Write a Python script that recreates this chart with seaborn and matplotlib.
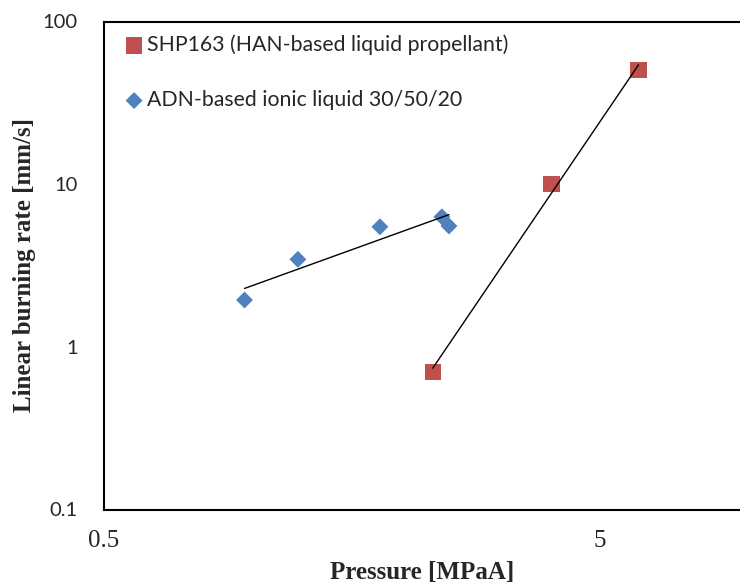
import numpy as np
import pandas as pd
import matplotlib
matplotlib.use("Agg")
import matplotlib.pyplot as plt
import matplotlib.ticker as mticker
import seaborn as sns

# ---- data ----
shp_label = "SHP163 (HAN-based liquid propellant)"
adn_label = "ADN-based ionic liquid 30/50/20"
shp_pressure = [2.30, 3.99, 5.98]
shp_rate = [0.70, 10.0, 50.3]
adn_pressure = [0.96, 1.23, 1.80, 2.40, 2.48]
adn_rate = [1.94, 3.45, 5.47, 6.30, 5.53]

x_major = [0.5, 5]
x_major_labels = ["0.5", "5"]
x_minor = [1.0, 1.5, 2.0, 2.5, 3.0, 3.5, 4.0, 4.5]
y_major = [0.1, 1, 10, 100]
y_major_labels = ["0.1", "1", "10", "100"]
y_minor = [m * d for d in (0.1, 1, 10) for m in range(2, 10)]

x_label = "Pressure [MPaA]"
y_label = "Linear burning rate [mm/s]"

red = "#C0504D"
blue = "#4F81BD"

sns.set_style("white")
plt.rcParams["font.family"] = ["Lato", "DejaVu Sans"]

W, H = 740, 583
ax_left, ax_bottom_px, ax_top_px = 104, 509.5, 21.5
ax_w = W - ax_left
ax_h = ax_bottom_px - ax_top_px
fig = plt.figure(figsize=(W / 100, H / 100), dpi=100)
ax = fig.add_axes([ax_left / W, 1 - ax_bottom_px / H, ax_w / W, ax_h / H])

df_shp = pd.DataFrame({"p": shp_pressure, "r": shp_rate})
df_adn = pd.DataFrame({"p": adn_pressure, "r": adn_rate})

sns.scatterplot(data=df_shp, x="p", y="r", marker="s", color=red, s=140,
                edgecolor="none", ax=ax, label=shp_label, zorder=2)
sns.scatterplot(data=df_adn, x="p", y="r", marker="D", color=blue, s=74,
                edgecolor="none", ax=ax, label=adn_label, zorder=2)

# power-law trend lines
for px, ry in ((shp_pressure, shp_rate), (adn_pressure, adn_rate)):
    lx, ly = np.log10(px), np.log10(ry)
    k, b = np.polyfit(lx, ly, 1)
    xs = np.array([min(px), max(px)])
    ys = 10 ** (b + k * np.log10(xs))
    sns.lineplot(x=xs, y=ys, color="black", linewidth=1.0, ax=ax,
                 legend=False, zorder=3, estimator=None)

ax.set_xscale("log")
ax.set_yscale("log")
ax.set_xlim(0.5, 0.5 * 10 ** ((740 - 104) / 496))
ax.set_ylim(0.1, 100)

ax.xaxis.set_major_locator(mticker.FixedLocator(x_major))
ax.xaxis.set_major_formatter(mticker.FixedFormatter(x_major_labels))
ax.xaxis.set_minor_locator(mticker.FixedLocator(x_minor))
ax.xaxis.set_minor_formatter(mticker.NullFormatter())
ax.yaxis.set_major_locator(mticker.FixedLocator(y_major))
ax.yaxis.set_major_formatter(mticker.FixedFormatter(y_major_labels))
ax.yaxis.set_minor_locator(mticker.FixedLocator(y_minor))
ax.yaxis.set_minor_formatter(mticker.NullFormatter())

for side in ("left", "bottom", "top"):
    ax.spines[side].set_linewidth(1.5)
    ax.spines[side].set_color("black")
ax.spines["right"].set_visible(False)

ax.tick_params(axis="both", which="major", direction="in", length=5.5, width=1.0, color="black")
ax.tick_params(axis="both", which="minor", direction="in", length=4, width=1.0, color="black")
ax.tick_params(axis="y", which="major", pad=19, labelsize=14.5)
ax.tick_params(axis="x", which="major", pad=14.5, labelsize=18)
for t in ax.get_xticklabels():
    t.set_fontfamily(["Liberation Serif"])

ax.set_xlabel(x_label, fontsize=18, fontweight="bold", family=["Liberation Serif"])
ax.set_ylabel(y_label, fontsize=18, fontweight="bold", family=["Liberation Serif"])
ax.xaxis.label.set_va("center")
ax.xaxis.set_label_coords(0.5, -(573 - ax_bottom_px) / ax_h)
ax.yaxis.label.set_va("center")
ax.yaxis.set_label_coords(-(ax_left - 25) / ax_w, 0.5)

leg = ax.legend(loc="upper left", bbox_to_anchor=(124 / W, 1 - 34.5 / H),
                bbox_transform=fig.transFigure, frameon=False, fontsize=15.3,
                handlelength=0.95, handletextpad=0.15, borderpad=0, borderaxespad=0,
                labelspacing=1.65)

fig.savefig("out.png", dpi=100)
